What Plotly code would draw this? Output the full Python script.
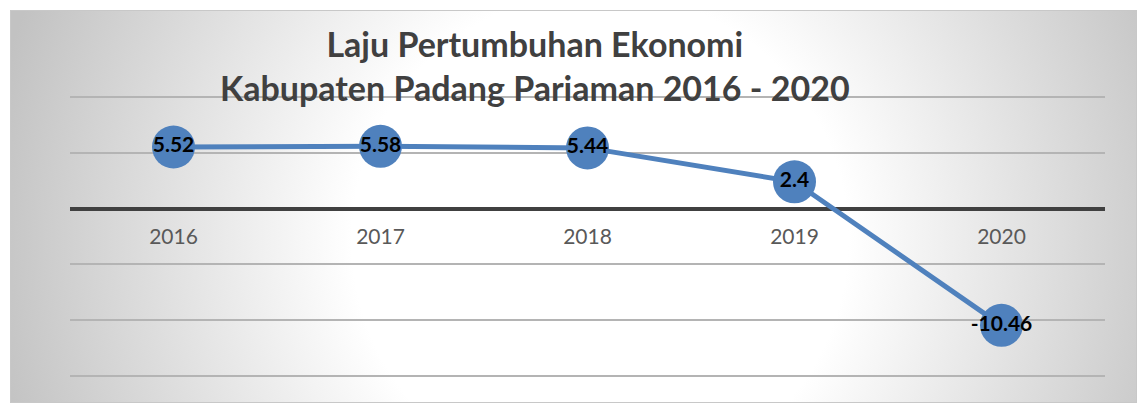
import base64
import plotly.graph_objects as go

years = ["2016", "2017", "2018", "2019", "2020"]
growth = [5.52, 5.58, 5.44, 2.4, -10.46]
labels = ["5.52", "5.58", "5.44", "2.4", "-10.46"]
y_ticks = [-15, -10, -5, 0, 5, 10]

W, H = 1137, 403
L, R, T, B = 70, 32, 94, 24
pw, ph = W - L - R, H - T - B
# plot area y pixels 94..379 -> values 10.27..-15.27 (11.16 px per unit)

svg = '''<svg xmlns="http://www.w3.org/2000/svg" width="1127" height="393" viewBox="0 0 1127 393">
<defs><radialGradient id="g" gradientUnits="userSpaceOnUse" cx="590" cy="230" r="620">
<stop offset="0" stop-color="#ffffff"/><stop offset="0.4" stop-color="#ffffff"/>
<stop offset="1" stop-color="#c2c2c2"/></radialGradient></defs>
<rect x="0" y="0" width="1127" height="393" fill="url(#g)" stroke="#c8c8c8" stroke-width="2"/>
</svg>'''
src = "data:image/svg+xml;base64," + base64.b64encode(svg.encode()).decode()

fig = go.Figure()
fig.add_trace(go.Scatter(
    x=years, y=growth, mode="lines+markers+text",
    line=dict(color="#4f81bd", width=5),
    marker=dict(size=43, color="#4f81bd"),
    text=labels, textposition="middle center",
    textfont=dict(family="Lato", size=21, color="#000000", weight="bold"),
    cliponaxis=False, hoverinfo="skip",
))

fig.add_annotation(
    text="Laju Pertumbuhan Ekonomi<br>Kabupaten Padang Pariaman 2016 - 2020",
    xref="paper", yref="paper",
    x=(535 - L) / pw, xanchor="center",
    y=(H - B - 66) / ph, yanchor="middle",
    showarrow=False, align="center",
    font=dict(family="Lato", size=34, color="#404040", weight="bold"),
)

fig.update_layout(
    width=W, height=H,
    margin=dict(l=L, r=R, t=T, b=B, pad=0),
    paper_bgcolor="#ffffff", plot_bgcolor="rgba(0,0,0,0)",
    showlegend=False,
    images=[dict(
        source=src, xref="paper", yref="paper",
        x=(10 - L) / pw, y=(H - B - 10) / ph,
        sizex=1127 / pw, sizey=393 / ph,
        xanchor="left", yanchor="top", sizing="stretch", layer="below",
    )],
    xaxis=dict(
        type="category", range=[-0.5, 4.5],
        showgrid=False, showline=False, zeroline=False, ticks="",
        anchor="free", position=15.27 / 25.54, ticklabelstandoff=13,
        tickfont=dict(family="Lato", size=21, color="#595959"),
    ),
    yaxis=dict(
        range=[-15.27, 10.27], tickvals=y_ticks, showticklabels=False,
        showgrid=True, gridcolor="#b4b4b4", gridwidth=1.5,
        zeroline=True, zerolinecolor="#404040", zerolinewidth=3.5,
        showline=False, ticks="",
    ),
)

fig.write_html("out.html", config={"displayModeBar": False},
               post_script="document.body.style.margin='0';")
